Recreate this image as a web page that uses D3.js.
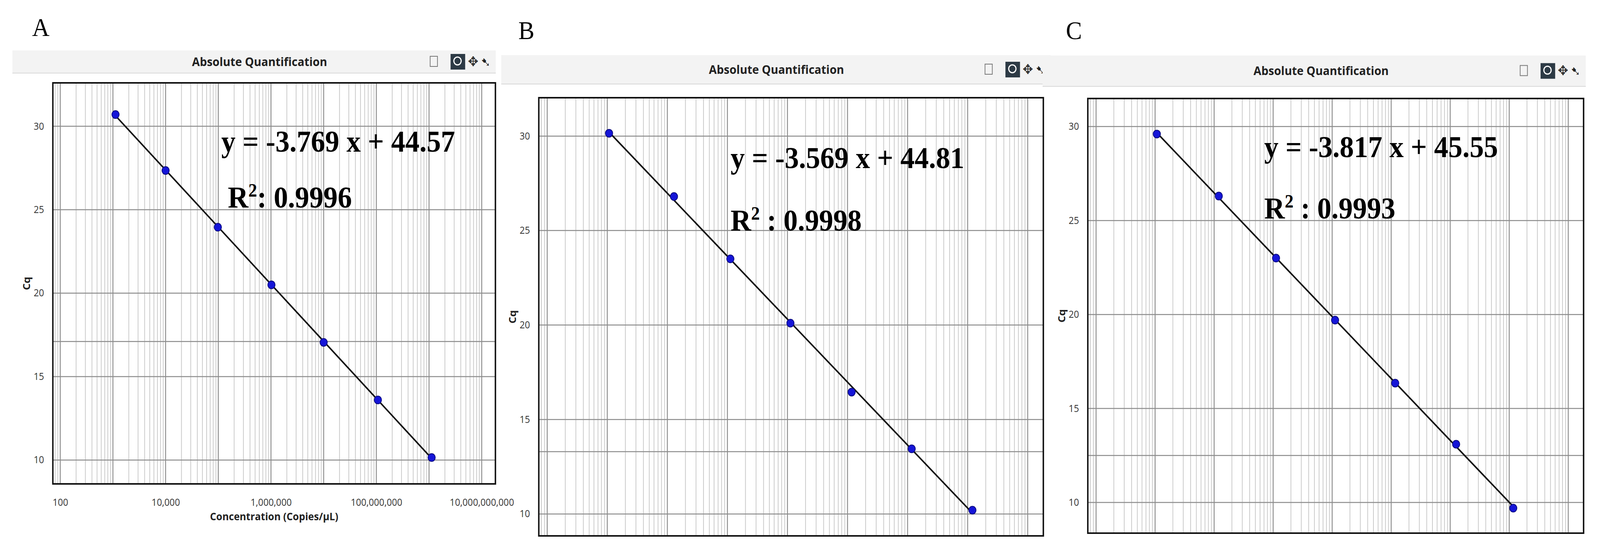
<!DOCTYPE html>
<html>
<head>
<meta charset="utf-8">
<script src="https://cdn.jsdelivr.net/npm/d3@7"></script>
<style>
  html, body { margin: 0; padding: 0; background: #fff; overflow: hidden; }
  svg { display: block; width: 100vw; height: 100vh; }
</style>
</head>
<body>
<div id="chart"></div>
<script>
// Data (x = concentration in copies/µL, y = Cq)
const panelLetters = ['A', 'B', 'C'];
const concA = [1.12e3, 1.0e4, 9.8e4, 1.02e6, 1.0e7, 1.07e8, 1.12e9];
const cqA = [30.7, 27.35, 23.95, 20.5, 17.05, 13.6, 10.15];
const concB = [1.07e3, 1.29e4, 1.12e5, 1.12e6, 1.17e7, 1.17e8, 1.2e9];
const cqB = [30.15, 26.8, 23.5, 20.1, 16.45, 13.45, 10.2];
const concC = [1.07e3, 1.2e4, 1.12e5, 1.12e6, 1.17e7, 1.26e8, 1.17e9];
const cqC = [29.6, 26.3, 23.0, 19.7, 16.35, 13.1, 9.7];
const equations = ['y = -3.769 x + 44.57', 'y = -3.569 x + 44.81', 'y = -3.817 x + 45.55'];
const r2Values = ['0.9996', '0.9998', '0.9993'];
const extraLines = [17.1, 13.3, 12.5];
const yTicks = [10, 15, 20, 25, 30];
const xTicks = [1e2, 1e4, 1e6, 1e8, 1e10];

const width = 4389, height = 1402;
const svg = d3.select('#chart').append('svg')
  .attr('viewBox', `0 0 ${width} ${height}`)
  .attr('preserveAspectRatio', 'none');

// layout of each panel (pixel boxes)
const panels = [
  { conc: concA, cq: cqA, letterX: 112, letterY: 92, bar: [34, 129, 1360, 187], frame: [145, 212, 1359, 1238],
    yDom: [8.57, 32.6], eqX: 607, eqY: 388, r2X: 625, r2Y: 531, r2Sep: ': ' },
  { conc: concB, cq: cqB, letterX: 1444, letterY: 100, bar: [1375, 141, 2882, 215], frame: [1478, 250, 2862, 1371],
    yDom: [8.84, 32.03], eqX: 2004, eqY: 430, r2X: 2004, r2Y: 590, r2Sep: ' : ' },
  { conc: concC, cq: cqC, letterX: 2946, letterY: 100, bar: [2860, 142, 4350, 221], frame: [2984, 252, 4344, 1364],
    yDom: [8.37, 31.49], eqX: 3468, eqY: 402, r2X: 3468, r2Y: 559, r2Sep: ' : ' }
];

panels.forEach((p, i) => {
  const [fx0, fy0, fx1, fy1] = p.frame;
  const g = svg.append('g');

  g.append('text').attr('x', p.letterX).attr('y', p.letterY)
    .attr('font-family', 'Liberation Serif').attr('font-size', 66).attr('text-anchor', 'middle')
    .text(panelLetters[i]);

  // title bar
  const [bx0, by0, bx1, by1] = p.bar;
  g.append('rect').attr('x', bx0).attr('y', by0).attr('width', bx1 - bx0).attr('height', by1 - by0)
    .attr('fill', '#f3f3f3');
  g.append('line').attr('x1', bx0).attr('x2', bx1).attr('y1', by1).attr('y2', by1)
    .attr('stroke', '#d8d8d8').attr('stroke-width', 2);
  g.append('text').attr('x', (fx0 + fx1) / 2 - 40).attr('y', (by0 + by1) / 2 + 11)
    .attr('font-family', 'Open Sans').attr('font-weight', 'bold').attr('font-size', 31)
    .attr('text-anchor', 'middle').attr('fill', '#222').text('Absolute Quantification');
  // toolbar icons
  const ix = bx1 - 180, iy = (by0 + by1) / 2;
  g.append('rect').attr('x', ix).attr('y', iy - 14).attr('width', 20).attr('height', 26)
    .attr('fill', 'none').attr('stroke', '#777').attr('stroke-width', 2);
  g.append('rect').attr('x', ix + 56).attr('y', iy - 20).attr('width', 40).attr('height', 40).attr('fill', '#2d3a45');
  g.append('circle').attr('cx', ix + 75).attr('cy', iy - 2).attr('r', 10)
    .attr('fill', 'none').attr('stroke', '#fff').attr('stroke-width', 3);
  g.append('text').attr('x', ix + 118).attr('y', iy + 11).attr('font-size', 34).attr('text-anchor', 'middle')
    .attr('fill', '#333').text('✥');
  g.append('text').attr('x', ix + 152).attr('y', iy + 12).attr('font-size', 32).attr('text-anchor', 'middle')
    .attr('fill', '#222').text('➷');

  const x = d3.scaleLog().domain([10 ** 1.86, 10 ** 10.26]).range([fx0, fx1]);
  const y = d3.scaleLinear().domain(p.yDom).range([fy1, fy0]);

  // vertical grid: minor then major
  const minor = [];
  for (let e = 1; e <= 10; e++) for (let m = 2; m <= 9; m++) minor.push(m * 10 ** e);
  const decades = d3.range(2, 11).map(e => 10 ** e);
  g.append('g').selectAll('line').data(minor.filter(v => v > x.domain()[0] && v < x.domain()[1])).join('line')
    .attr('x1', d => x(d)).attr('x2', d => x(d)).attr('y1', fy0).attr('y2', fy1)
    .attr('stroke', '#c8c8c8').attr('stroke-width', 2);
  g.append('g').selectAll('line').data(decades).join('line')
    .attr('x1', d => x(d)).attr('x2', d => x(d)).attr('y1', fy0).attr('y2', fy1)
    .attr('stroke', '#8c8c8c').attr('stroke-width', 2.5);
  g.append('g').selectAll('line').data(yTicks.concat([extraLines[i]])).join('line')
    .attr('x1', fx0).attr('x2', fx1).attr('y1', d => y(d)).attr('y2', d => y(d))
    .attr('stroke', '#8c8c8c').attr('stroke-width', 2.5);

  // frame
  g.append('rect').attr('x', fx0).attr('y', fy0).attr('width', fx1 - fx0).attr('height', fy1 - fy0)
    .attr('fill', 'none').attr('stroke', '#111').attr('stroke-width', 4);

  // axes
  const xAxis = d3.axisBottom(x).tickValues(xTicks).tickSize(0).tickPadding(38)
    .tickFormat(d3.format(','));
  g.append('g').attr('transform', `translate(0,${fy1})`).call(xAxis)
    .call(s => s.select('.domain').remove())
    .selectAll('text').attr('font-family', 'Open Sans').attr('font-size', 25).attr('fill', '#333');
  const yAxis = d3.axisLeft(y).tickValues(yTicks).tickSize(0).tickPadding(24);
  g.append('g').attr('transform', `translate(${fx0},0)`).call(yAxis)
    .call(s => s.select('.domain').remove())
    .selectAll('text').attr('font-family', 'Open Sans').attr('font-size', 25).attr('fill', '#333');

  g.append('text').attr('x', (fx0 + fx1) / 2).attr('y', fy1 + 93).attr('text-anchor', 'middle')
    .attr('font-family', 'Open Sans').attr('font-weight', 'bold').attr('font-size', 27).attr('fill', '#222')
    .text('Concentration (Copies/µL)');
  g.append('text').attr('transform', `translate(${fx0 - 62},${(fy0 + fy1) / 2}) rotate(-90)`)
    .attr('text-anchor', 'middle').attr('font-family', 'Open Sans').attr('font-weight', 'bold')
    .attr('font-size', 27).attr('fill', '#222').text('Cq');

  // least squares line through the points (in log10 x)
  const lx = p.conc.map(Math.log10);
  const mx = d3.mean(lx), my = d3.mean(p.cq);
  const slope = d3.sum(lx, (v, k) => (v - mx) * (p.cq[k] - my)) / d3.sum(lx, v => (v - mx) ** 2);
  const icpt = my - slope * mx;
  const ends = [d3.min(p.conc), d3.max(p.conc)];
  g.append('path').datum(ends)
    .attr('d', d3.line().x(d => x(d)).y(d => y(icpt + slope * Math.log10(d))))
    .attr('stroke', '#111').attr('stroke-width', 4).attr('fill', 'none');

  g.append('g').selectAll('circle').data(p.conc).join('circle')
    .attr('cx', d => x(d)).attr('cy', (d, k) => y(p.cq[k])).attr('r', 10)
    .attr('fill', '#1515d8').attr('stroke', '#0a0a80').attr('stroke-width', 2);

  // equation text
  const t = g.append('text').attr('font-family', 'Liberation Serif').attr('font-weight', 'bold').attr('fill', '#000');
  t.attr('x', p.eqX).attr('y', p.eqY).attr('font-size', 78).text(equations[i]);
  const r = g.append('text').attr('x', p.r2X).attr('y', p.r2Y).attr('font-family', 'Liberation Serif')
    .attr('font-weight', 'bold').attr('font-size', 78).attr('fill', '#000');
  r.append('tspan').text('R');
  r.append('tspan').attr('font-size', 48).attr('dy', -28).text('2');
  r.append('tspan').attr('dy', 28).text(p.r2Sep + r2Values[i]);
});
</script>
</body>
</html>
